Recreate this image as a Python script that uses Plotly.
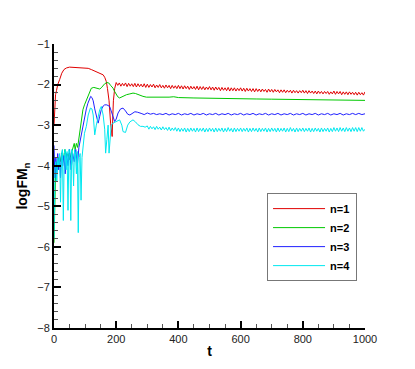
import plotly.graph_objects as go

# ---- data ----
# n=1 (red): start-up + plateau, then dense oscillating tail (t=200..1000 step 5)
t1_head = [0, 2, 5, 8, 12, 18, 25, 32, 40, 50, 60, 70, 80, 90, 100, 110, 120, 130, 140,
           150, 158, 163, 168, 172, 177, 182, 185, 187, 189, 191, 195]
y1_head = [-3.0, -2.5, -2.25, -2.15, -2.0, -1.88, -1.72, -1.63, -1.59, -1.57, -1.575, -1.57,
           -1.575, -1.58, -1.585, -1.6, -1.63, -1.66, -1.69, -1.73, -1.76, -1.82, -1.92,
           -2.1, -2.4, -2.95, -3.1, -3.28, -2.8, -2.4, -2.1]
y1_tail = [
    -1.95, -2.02, -1.96, -2.04, -1.97, -2.03, -1.96, -2.05, -1.97, -2.04, -1.98, -2.05, -1.97, -2.06, -1.98, -2.05, -1.99, -2.06, -1.98, -2.07,
    -1.99, -2.07, -2.00, -2.06, -1.99, -2.08, -2.01, -2.07, -2.00, -2.08, -2.02, -2.09, -2.01, -2.08, -2.02, -2.10, -2.02, -2.09, -2.03, -2.10,
    -2.02, -2.10, -2.03, -2.11, -2.03, -2.10, -2.04, -2.12, -2.04, -2.11, -2.05, -2.12, -2.04, -2.13, -2.05, -2.12, -2.05, -2.13, -2.06, -2.12,
    -2.05, -2.13, -2.06, -2.14, -2.06, -2.13, -2.07, -2.15, -2.07, -2.14, -2.08, -2.15, -2.07, -2.16, -2.08, -2.15, -2.08, -2.16, -2.09, -2.15,
    -2.08, -2.16, -2.09, -2.17, -2.09, -2.16, -2.10, -2.17, -2.10, -2.18, -2.10, -2.17, -2.11, -2.18, -2.11, -2.17, -2.12, -2.19, -2.11, -2.18,
    -2.12, -2.19, -2.12, -2.18, -2.13, -2.20, -2.13, -2.19, -2.13, -2.20, -2.14, -2.19, -2.14, -2.21, -2.14, -2.20, -2.15, -2.21, -2.15, -2.20,
    -2.14, -2.21, -2.15, -2.22, -2.15, -2.21, -2.16, -2.22, -2.16, -2.23, -2.16, -2.22, -2.17, -2.23, -2.17, -2.22, -2.17, -2.24, -2.18, -2.23,
    -2.16, -2.24, -2.17, -2.23, -2.17, -2.25, -2.18, -2.24, -2.18, -2.25, -2.18, -2.24, -2.19, -2.25, -2.19, -2.26, -2.19, -2.25, -2.20, -2.26,
    -2.18]
t1_tail = list(range(200, 1001, 5))

# n=2 (green)
t2 = [0, 3, 6, 10, 15, 20, 25, 30, 35, 40, 45, 50, 55, 60, 65, 68, 72, 76, 80, 83, 88, 93,
      98, 104, 110, 115, 120, 128, 136, 142, 147, 152, 158, 163, 170, 176, 182, 190, 195,
      200, 205, 211, 218, 225, 233, 244, 254, 262, 270, 276, 286, 297, 320, 350, 370, 385,
      400, 450, 500, 550, 600, 650, 700, 750, 800, 850, 900, 950, 1000]
y2 = [-5.9, -4.3, -3.9, -4.1, -3.8, -3.9, -3.7, -3.85, -3.6, -3.8, -3.7, -3.85, -3.7, -3.6,
      -3.45, -3.6, -3.45, -3.55, -3.3, -3.1, -2.9, -2.62, -2.5, -2.38, -2.25, -2.15, -2.09,
      -2.07, -2.09, -2.11, -2.11, -2.08, -2.02, -1.98, -1.95, -1.96, -2.02, -2.09, -2.17,
      -2.25, -2.3, -2.33, -2.3, -2.27, -2.25, -2.23, -2.21, -2.22, -2.25, -2.27, -2.29,
      -2.31, -2.31, -2.32, -2.31, -2.30, -2.32, -2.33, -2.34, -2.345, -2.35, -2.355, -2.36,
      -2.365, -2.37, -2.375, -2.38, -2.385, -2.39]

# n=3 (blue)
t3_head = [0, 3, 6, 9, 12, 15, 18, 21, 24, 28, 32, 36, 40, 45, 50, 55, 60, 65, 70, 75, 80,
           85, 90, 95, 99, 104, 109, 114, 118, 122, 126, 131, 136, 142, 147, 152, 158, 163,
           170, 179, 186, 190, 195, 200, 206, 214, 222, 230, 237, 244, 252, 260, 268, 276]
y3_head = [-3.5, -4.3, -3.8, -4.2, -3.7, -4.1, -3.8, -4.3, -3.7, -4.0, -3.75, -4.2, -3.7,
           -4.0, -3.6, -4.1, -3.7, -3.9, -3.6, -4.0, -3.55, -3.35, -3.1, -2.9, -2.83, -2.6,
           -2.46, -2.33, -2.29, -2.32, -2.4, -2.6, -2.75, -2.95, -2.78, -2.62, -2.53, -2.5,
           -2.5, -2.54, -2.7, -2.82, -2.91, -2.85, -2.7, -2.6, -2.58, -2.65, -2.73, -2.75,
           -2.7, -2.67, -2.68, -2.71]
t3_tail = list(range(280, 1001, 10))
y3_tail = [
    -2.71, -2.74, -2.70, -2.73, -2.71, -2.74, -2.72, -2.74, -2.71, -2.75, -2.72, -2.74, -2.71, -2.75, -2.72, -2.74, -2.71, -2.75, -2.72, -2.74,
    -2.71, -2.75, -2.72, -2.74, -2.71, -2.75, -2.72, -2.74, -2.71, -2.75, -2.72, -2.74, -2.71, -2.75, -2.72, -2.74, -2.71, -2.75, -2.72, -2.74,
    -2.71, -2.75, -2.72, -2.74, -2.71, -2.75, -2.72, -2.74, -2.71, -2.75, -2.72, -2.74, -2.71, -2.75, -2.72, -2.74, -2.71, -2.75, -2.72, -2.74,
    -2.71, -2.75, -2.72, -2.74, -2.71, -2.75, -2.72, -2.74, -2.71, -2.74, -2.71, -2.74, -2.72]

# n=4 (cyan)
t4_head = [0, 3, 6, 9, 12, 15, 18, 21, 24, 27, 30, 33, 36, 39, 42, 45, 48, 51, 54, 57, 60,
           63, 66, 69, 72, 75, 78, 81, 84, 87, 90, 93, 98, 104, 110, 117, 122, 126, 131,
           136, 142, 147, 152, 158, 163, 166, 170, 174, 177, 181, 184, 190, 200, 211, 218,
           222, 230, 237, 244, 254, 262, 270, 278, 286, 293]
y4_head = [-5.8, -4.1, -3.9, -4.4, -3.8, -4.0, -3.7, -4.9, -3.7, -3.6, -5.35, -3.7, -3.6,
           -4.1, -3.65, -5.1, -3.6, -3.7, -5.35, -3.6, -3.7, -4.5, -3.6, -3.7, -4.2, -3.65,
           -5.65, -3.8, -3.7, -4.85, -3.8, -3.55, -3.2, -3.03, -2.75, -2.58, -2.6, -2.75,
           -3.24, -3.0, -2.75, -2.62, -2.54, -2.75, -3.1, -3.69, -3.35, -3.0, -3.69, -3.3,
           -3.0, -2.95, -2.91, -2.87, -3.0, -3.16, -3.18, -3.0, -2.92, -2.87, -2.92, -2.99,
           -3.03, -3.03, -3.05]
t4_tail = list(range(300, 1001, 5))
y4_tail = [
    -3.02, -3.10, -3.03, -3.09, -3.04, -3.11, -3.03, -3.10, -3.05, -3.12, -3.04, -3.11, -3.06, -3.13, -3.05, -3.14, -3.07, -3.13, -3.06, -3.15,
    -3.07, -3.16, -3.08, -3.15, -3.07, -3.17, -3.08, -3.16, -3.07, -3.15, -3.08, -3.17, -3.07, -3.16, -3.08, -3.15, -3.07, -3.17, -3.08, -3.16,
    -3.07, -3.15, -3.08, -3.17, -3.07, -3.16, -3.08, -3.15, -3.07, -3.17, -3.08, -3.16, -3.06, -3.15, -3.08, -3.17, -3.07, -3.16, -3.08, -3.15,
    -3.07, -3.16, -3.08, -3.15, -3.07, -3.17, -3.08, -3.16, -3.07, -3.15, -3.08, -3.17, -3.07, -3.16, -3.08, -3.15, -3.07, -3.17, -3.08, -3.16,
    -3.07, -3.15, -3.08, -3.17, -3.07, -3.16, -3.08, -3.15, -3.07, -3.17, -3.08, -3.16, -3.06, -3.15, -3.08, -3.17, -3.07, -3.16, -3.08, -3.15,
    -3.07, -3.16, -3.08, -3.15, -3.07, -3.17, -3.08, -3.16, -3.07, -3.15, -3.08, -3.17, -3.07, -3.16, -3.08, -3.15, -3.07, -3.17, -3.08, -3.16,
    -3.06, -3.15, -3.07, -3.16, -3.06, -3.15, -3.07, -3.16, -3.06, -3.15, -3.07, -3.16, -3.06, -3.15, -3.06, -3.16, -3.06, -3.15, -3.06, -3.15,
    -3.10]

series = [
    ('n=1', t1_head + t1_tail, y1_head + y1_tail, '#e00000'),
    ('n=2', t2, y2, '#00c800'),
    ('n=3', t3_head + t3_tail, y3_head + y3_tail, '#2020ff'),
    ('n=4', t4_head + t4_tail, y4_head + y4_tail, '#00e8f0'),
]

font = 'Liberation Sans, Arial, sans-serif'

fig = go.Figure()
for name, t, y, c in series:
    fig.add_trace(go.Scatter(x=t, y=y, name=f'<b>{name}</b>', mode='lines',
                             line=dict(color=c, width=1)))

axis_common = dict(showline=True, linecolor='black', linewidth=2, ticks='inside',
                   ticklen=7, tickwidth=2, tickcolor='black', showgrid=False,
                   zeroline=False, mirror=False, automargin=False,
                   tickfont=dict(family=font, size=11, color='#222'))

# page body has an 8px margin, so margins are shifted to keep the plot box in place
fig.update_layout(
    width=415, height=369,
    margin=dict(l=46, r=58, t=36, b=49),
    paper_bgcolor='white', plot_bgcolor='white',
    font=dict(family=font, color='black'),
    xaxis=dict(range=[0, 1000], dtick=200, tick0=0,
               minor=dict(dtick=50, ticks='inside', ticklen=4, tickwidth=1, tickcolor='#555'),
               title=dict(text='<b>t</b>', font=dict(size=14), standoff=2),
               **axis_common),
    yaxis=dict(range=[-8, -1], dtick=1, tick0=-8,
               minor=dict(dtick=0.2, ticks='inside', ticklen=4, tickwidth=1, tickcolor='#555'),
               title=dict(text='<b>logFM<sub>n</sub></b>', font=dict(size=14), standoff=6),
               **axis_common),
    legend=dict(x=0.685, y=0.32, xanchor='left', yanchor='middle',
                bordercolor='#777', borderwidth=1, bgcolor='white',
                font=dict(family=font, size=11, color='black'),
                tracegroupgap=0, itemwidth=52),
    showlegend=True,
)

fig.write_html("out.html")
